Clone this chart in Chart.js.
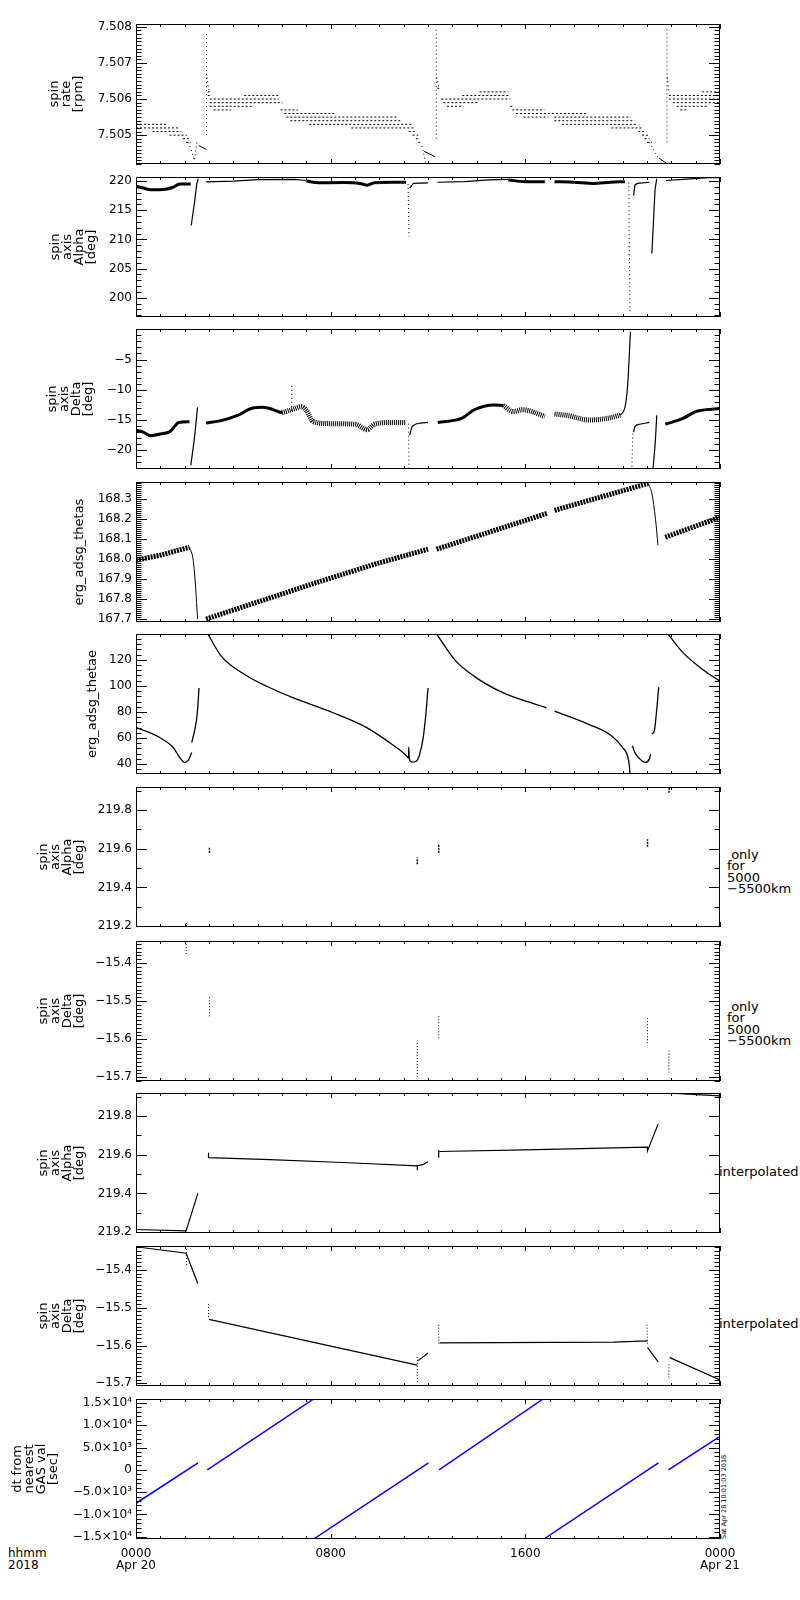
<!DOCTYPE html>
<html>
<head>
<meta charset="utf-8">
<title>ERG spin axis</title>
<script src="https://cdn.jsdelivr.net/npm/chart.js@4.4.1/dist/chart.umd.min.js"></script>
<style>
  html, body { margin: 0; padding: 0; background: #fff; }
  #page { position: relative; width: 800px; height: 1600px; background: #fff; overflow: hidden;
          font-family: "DejaVu Sans", sans-serif; color: #000; }
  #page canvas { position: absolute; left: 0; }
  .side { position: absolute; font-size: 13px; line-height: 11.3px; white-space: pre; }
  .interp { position: absolute; font-size: 13px; line-height: 13px; white-space: pre; }
  .foot { position: absolute; font-size: 12px; line-height: 12px; white-space: pre; }
  .stamp { position: absolute; font-size: 6.5px; line-height: 7px; white-space: pre;
           transform-origin: 0 0; transform: rotate(-90deg); }
</style>
</head>
<body>
<div id="page">
  <div class="side" style="left:727px;top:849px"> only
for
5000
−5500km</div>
  <div class="side" style="left:727px;top:1001px"> only
for
5000
−5500km</div>
  <div class="interp" style="left:719px;top:1165px">interpolated</div>
  <div class="interp" style="left:719px;top:1317px">interpolated</div>
  <div class="foot" style="left:8px;top:1547px">hhmm
2018</div>
  <div class="stamp" style="left:721px;top:1539px">Sat Apr 28 10:01:03 2018</div>
</div>
<script>
Chart.defaults.font.family = '"DejaVu Sans", sans-serif';
Chart.defaults.color = '#000';

// x axis: hours since 2018-04-20 0000
const hourTicks = [0, 8, 16, 24];
const hourLabels = [['0000', 'Apr 20'], '0800', '1600', ['0000', 'Apr 21']];

// ---------- panel 1 : spin rate [rpm] (quantized levels) ----------
const rateTicks = [7.505, 7.506, 7.507, 7.508];
const rateTickLabels = ['7.505', '7.506', '7.507', '7.508'];
const rateStart = [0, 0, 0.68, 1.38, 1.93, 2.06, 2.95, 2.95, 4.45, 3.03, 3.03, 3.03, 3.19, 5.94, 6.1, 6.18,
  6.34, 7.12, 8.85, 11.21, 11.37, 11.5, 11.6, 12.38, 14.12, 13.41, 12.55, 12.63, 12.78, 15.38, 15.46, 15.61,
  15.93, 17.19, 17.19, 17.5, 19.54, 20.64, 20.8, 20.9, 21.0, 23.27, 21.9, 21.9, 22.06, 22.22, 22.37];
const rateEnd = [1.23, 1.78, 1.86, 2.09, 2.17, 2.25, 3.11, 3.11, 5.86, 5.86, 6.02, 4.76, 3.9, 6.65, 8.14, 10.74,
  10.9, 11.37, 11.45, 11.52, 11.6, 11.68, 11.75, 12.5, 15.3, 15.3, 15.38, 14.04, 13.41, 15.53, 16.79, 18.52,
  16.95, 20.33, 20.49, 20.64, 20.8, 20.88, 21.04, 21.1, 21.2, 24, 24, 24, 24, 23.48, 22.69];
const rateLevel = [7.5053, 7.5052, 7.5051, 7.5050, 7.5049, 7.5048, 7.5062, 7.5061, 7.5061, 7.5060, 7.5059,
  7.5058, 7.5057, 7.5057, 7.5056, 7.5055, 7.5054, 7.5053, 7.5052, 7.5051, 7.5050, 7.5049, 7.5048, 7.5063,
  7.5062, 7.5061, 7.5060, 7.5059, 7.5058, 7.5058, 7.5057, 7.5056, 7.5055, 7.5055, 7.5054, 7.5053, 7.5052,
  7.5051, 7.5050, 7.5049, 7.5048, 7.5062, 7.5061, 7.5060, 7.5059, 7.5058, 7.5057];
const rateSolid = [
  [[2.58, 7.50471], [2.9, 7.5046]],
  [[11.84, 7.50455], [12.3, 7.5044]],
  [[21.5, 7.50436], [21.8, 7.50422]]
];
const rateDots = [
  [[2.17, 7.5048], [2.4, 7.5043], [2.5, 7.5048]],
  [[2.9, 7.5050], [2.9, 7.5078]], [[2.92, 7.5066], [3.0, 7.5062]],
  [[11.75, 7.5047], [11.92, 7.5042]],
  [[12.34, 7.5049], [12.34, 7.5080]], [[12.36, 7.5066], [12.45, 7.5063]],
  [[21.1, 7.5048], [21.45, 7.50437]],
  [[21.82, 7.5048], [21.82, 7.5080]], [[21.84, 7.5066], [21.9, 7.5062]]
];

// ---------- panel 2 : spin axis Alpha [deg] ----------
const alphaTicks = [200, 205, 210, 215, 220];
const alphaTickLabels = ['200', '205', '210', '215', '220'];
const alphaThick = [
  [[0, 219.1], [0.3, 218.8], [0.6, 218.5], [1.2, 218.6], [1.5, 218.9], [1.8, 219.5], [2.25, 219.5]],
  [[7.0, 220.0], [7.5, 219.7], [8.5, 219.75], [9.2, 219.6], [9.5, 219.3], [9.8, 219.7], [10.5, 219.8], [11.1, 219.8]],
  [[15.3, 220.2], [16.0, 219.9], [16.8, 219.9]],
  [[17.2, 219.9], [18.0, 219.8], [18.8, 219.6], [19.5, 219.8], [20.1, 219.9]]
];
const alphaThin = [
  [[2.27, 212.4], [2.4, 216.2], [2.5, 219.6], [2.56, 220.4]],
  [[2.88, 219.85], [4.0, 220.0], [5.0, 220.25], [6.5, 220.3], [7.0, 220.1]],
  [[11.25, 218.8], [11.4, 219.6], [12.0, 219.7]],
  [[12.38, 219.8], [13.5, 219.9], [14.5, 220.2], [15.3, 220.3]],
  [[20.45, 217.5], [20.5, 219.3], [20.6, 219.6], [21.1, 219.8]],
  [[21.2, 207.6], [21.33, 218.5], [21.4, 220.4]],
  [[21.78, 220.1], [22.5, 220.3], [23.5, 220.6], [24, 220.6]]
];
const alphaDots = [
  [[11.18, 219.5], [11.22, 210.5]],
  [[20.25, 219.8], [20.3, 197.4]]
];

// ---------- panel 3 : spin axis Delta [deg] ----------
const deltaTicks = [-20, -15, -10, -5];
const deltaTickLabels = ['−20', '−15', '−10', '−5'];
const deltaThick = [
  [[0, -16.7], [0.3, -17.0], [0.6, -17.6], [1.0, -17.3], [1.4, -16.9], [1.6, -16.0], [1.75, -15.4], [2.2, -15.3]],
  [[2.88, -15.5], [3.5, -15.1], [4.2, -14.2], [4.8, -13.0], [5.2, -12.9], [6.0, -13.8]],
  [[12.4, -15.4], [13.4, -14.7], [13.9, -13.3], [14.7, -12.5], [15.1, -12.6]],
  [[21.75, -15.7], [22.5, -14.7], [23.0, -13.6], [24, -13.1]]
];
const deltaNoisy = [
  [[6.0, -13.8], [6.4, -13.3], [6.8, -12.8], [7.0, -13.4], [7.3, -15.3], [8.0, -15.6], [9.0, -15.7],
   [9.5, -16.6], [9.8, -15.7], [10.5, -15.4], [11.1, -15.4]],
  [[15.1, -12.6], [15.5, -13.6], [15.9, -13.3], [16.8, -14.4]],
  [[17.2, -14.0], [17.8, -14.3], [18.6, -15.0], [19.4, -14.7], [19.9, -14.2]]
];
const deltaThin = [
  [[2.25, -22.5], [2.4, -18], [2.53, -12.9]],
  [[11.25, -17.5], [11.35, -16.1], [11.7, -15.5], [12.0, -15.4]],
  [[19.9, -14.2], [20.1, -12.8], [20.2, -9.5], [20.32, -0.4]],
  [[20.45, -17], [20.5, -16.1], [20.7, -15.7], [21.1, -15.4]],
  [[21.25, -23.0], [21.35, -18], [21.4, -14.2]]
];
const deltaDots = [
  [[6.4, -13.5], [6.4, -9.2]],
  [[11.2, -15.6], [11.22, -23.0]],
  [[20.38, -22.7], [20.42, -17]]
];

// ---------- panel 4 : erg_adsg_thetas ----------
const thetasTicks = [167.7, 167.8, 167.9, 168.0, 168.1, 168.2, 168.3];
const thetasTickLabels = ['167.7', '167.8', '167.9', '168.0', '168.1', '168.2', '168.3'];
const thetasBand = [
  [[0, 167.995], [1.0, 168.02], [2.2, 168.06]],
  [[2.88, 167.70], [5.24, 167.795], [7.6, 167.89], [9.95, 167.98], [12.0, 168.05]],
  [[12.35, 168.05], [16.9, 168.23]],
  [[17.2, 168.245], [21.05, 168.38]],
  [[21.75, 168.11], [24, 168.21]]
];
const thetasThin = [
  [[2.2, 168.06], [2.35, 167.995], [2.45, 167.86], [2.53, 167.70]],
  [[21.05, 168.38], [21.2, 168.33], [21.35, 168.2], [21.45, 168.07]]
];

// ---------- panel 5 : erg_adsg_thetae ----------
const thetaeTicks = [40, 60, 80, 100, 120];
const thetaeTickLabels = ['40', '60', '80', '100', '120'];
const thetaeLines = [
  [[0, 68], [0.85, 61.6], [1.53, 52.7], [1.8, 45], [2.01, 41.3], [2.15, 43], [2.29, 48.9]],
  [[2.29, 56.5], [2.42, 66.7], [2.52, 79.4], [2.59, 98.4]],
  [[2.95, 139.8], [3.52, 122.5], [4.48, 108.6], [5.37, 99.7], [6.47, 90.8], [8.1, 79.4], [9.48, 68],
   [10.42, 56.5], [11.05, 47.6], [11.2, 44.5]],
  [[11.2, 44.5], [11.21, 53], [11.23, 44], [11.35, 41.5], [11.5, 42], [11.65, 47], [11.8, 60], [11.92, 80], [12.0, 98.4]],
  [[12.36, 139.6], [13.1, 120], [13.9, 107.3], [15.1, 94.6], [16.87, 83.2]],
  [[17.2, 80.6], [18.6, 70.5], [19.55, 61.6], [20.0, 52.7], [20.2, 46.3], [20.28, 38], [20.3, 32.4]],
  [[20.4, 54], [20.5, 49], [20.65, 45], [20.93, 41.3], [21.1, 44], [21.15, 47.6]],
  [[21.2, 63], [21.3, 65.4], [21.4, 81.9], [21.48, 99]],
  [[21.87, 139.6], [22.5, 125.1], [23.3, 112.4], [24, 103.5]]
];

// ---------- panels 6,8 : Alpha (5000-5500km only / interpolated) ----------
const alphaFineTicks = [219.2, 219.4, 219.6, 219.8];
const alphaFineLabels = ['219.2', '219.4', '219.6', '219.8'];
const alphaOnly = [
  [[2.06, 219.195], [2.06, 219.215]],
  [[3.02, 219.58], [3.02, 219.61]],
  [[11.56, 219.52], [11.56, 219.555]],
  [[12.44, 219.58], [12.44, 219.625]],
  [[21.02, 219.61], [21.02, 219.65]],
  [[21.9, 219.89], [21.92, 219.92]]
];
const alphaInterp = [
  [[0, 219.213], [2.06, 219.206], [2.54, 219.4]],
  [[2.98, 219.61], [2.98, 219.585], [5.5, 219.575], [8.5, 219.56], [11.56, 219.543], [11.8, 219.55], [12.0, 219.564]],
  [[11.56, 219.52], [11.56, 219.543]],
  [[12.44, 219.585], [12.44, 219.625]],
  [[12.46, 219.617], [16.0, 219.625], [21.02, 219.64], [21.02, 219.62], [21.46, 219.76]],
  [[21.9, 219.92], [22.5, 219.915], [24, 219.905]]
];

// ---------- panels 7,9 : Delta (5000-5500km only / interpolated) ----------
const deltaFineTicks = [-15.7, -15.6, -15.5, -15.4];
const deltaFineLabels = ['−15.7', '−15.6', '−15.5', '−15.4'];
const deltaOnly = [
  [[2.06, -15.342], [2.06, -15.38]],
  [[3.02, -15.49], [3.02, -15.54]],
  [[11.56, -15.61], [11.56, -15.70]],
  [[12.44, -15.54], [12.44, -15.60]],
  [[21.02, -15.545], [21.02, -15.61]],
  [[21.9, -15.63], [21.9, -15.69]]
];
const deltaInterp = [
  [[0, -15.339], [2.06, -15.356], [2.54, -15.436]],
  [[3.0, -15.531], [11.56, -15.652]],
  [[11.6, -15.64], [12.0, -15.62]],
  [[12.48, -15.593], [19.65, -15.591], [21.02, -15.588]],
  [[21.02, -15.605], [21.46, -15.643]],
  [[21.94, -15.632], [24, -15.691]]
];
const deltaInterpDots = [
  [[2.06, -15.337], [2.08, -15.39]],
  [[2.98, -15.49], [2.98, -15.53]],
  [[11.56, -15.63], [11.56, -15.70]],
  [[12.44, -15.545], [12.44, -15.60]],
  [[21.0, -15.545], [21.02, -15.6]],
  [[21.9, -15.65], [21.9, -15.69]]
];

// ---------- panel 10 : dt from nearest GAS val [sec] ----------
const dtTicks = [-15000, -10000, -5000, 0, 5000, 10000, 15000];
const dtTickLabels = ['−1.5×10⁴', '−1.0×10⁴', '−5.0×10³', '0', '5.0×10³', '1.0×10⁴', '1.5×10⁴'];
const dtLines = [
  [[0, -7500], [2.55, 1580]],
  [[2.93, 0], [7.3, 15900]],
  [[7.3, -15520], [12.02, 1580]],
  [[12.45, 0], [16.73, 15900]],
  [[16.76, -15520], [21.47, 1580]],
  [[21.88, 0], [24, 7500]]
];

// turn lists of [hour, value] into chart.js datasets
function toSets(segs, width, dash, color, smooth) {
  return segs.map(s => ({
    data: s.map(p => ({ x: p[0], y: p[1] })),
    borderColor: color || '#000',
    borderWidth: width,
    borderDash: dash || [],
    pointRadius: 0,
    fill: false,
    tension: smooth ? 0.4 : 0,
    cubicInterpolationMode: smooth ? 'monotone' : 'default',
    clip: 0
  }));
}

const rateLevelSegs = rateLevel.map((v, i) => [[rateStart[i], v], [rateEnd[i], v]]);

const panels = [
  { title: ['spin', 'rate', '[rpm]'], center: 55, min: 7.5042, max: 7.50808, ticks: rateTicks, labels: rateTickLabels, minor: 0.0001,
    sets: [...toSets(rateLevelSegs, 1, [2, 2]), ...toSets(rateSolid, 1), ...toSets(rateDots, 1, [1, 3])] },
  { title: ['spin', 'axis', 'Alpha', '[deg]'], center: 56, min: 196.7, max: 220.7, ticks: alphaTicks, labels: alphaTickLabels, minor: 1,
    sets: [...toSets(alphaThick, 3, [], null, true), ...toSets(alphaThin, 1.2), ...toSets(alphaDots, 1, [1, 3])] },
  { title: ['spin', 'axis', 'Delta', '[deg]'], center: 53, min: -23.1, max: 0.05, ticks: deltaTicks, labels: deltaTickLabels, minor: 1,
    sets: [...toSets(deltaThick, 3, [], null, true), ...toSets(deltaNoisy, 5, [1, 1], null, true),
           ...toSets(deltaThin, 1.2, [], null, true), ...toSets(deltaDots, 1, [1, 3])] },
  { title: 'erg_adsg_thetas', center: 80, min: 167.685, max: 168.387, ticks: thetasTicks, labels: thetasTickLabels, minor: 0.01,
    sets: [...toSets(thetasBand, 5, [2, 1]), ...toSets(thetasThin, 1, [], null, true)] },
  { title: 'erg_adsg_thetae', center: 93, min: 32.4, max: 139.8, ticks: thetaeTicks, labels: thetaeTickLabels, minor: 4,
    sets: toSets(thetaeLines, 1.3, [], null, true) },
  { title: ['spin', 'axis', 'Alpha', '[deg]'], center: 44, min: 219.195, max: 219.92, ticks: alphaFineTicks, labels: alphaFineLabels, minor: 0.1,
    sets: toSets(alphaOnly, 1.5, [2, 1]) },
  { title: ['spin', 'axis', 'Delta', '[deg]'], center: 44, min: -15.71, max: -15.342, ticks: deltaFineTicks, labels: deltaFineLabels, minor: 0.01,
    sets: toSets(deltaOnly, 1, [1, 2]) },
  { title: ['spin', 'axis', 'Alpha', '[deg]'], center: 44, min: 219.195, max: 219.92, ticks: alphaFineTicks, labels: alphaFineLabels, minor: 0.1,
    sets: toSets(alphaInterp, 1.2) },
  { title: ['spin', 'axis', 'Delta', '[deg]'], center: 44, min: -15.707, max: -15.337, ticks: deltaFineTicks, labels: deltaFineLabels, minor: 0.01,
    sets: [...toSets(deltaInterp, 1.2), ...toSets(deltaInterpDots, 1, [1, 2])] },
  { title: ['dt from', 'nearest', 'GAS val', '[sec]'], center: 18, min: -15520, max: 15900, ticks: dtTicks, labels: dtTickLabels, minor: 1000,
    sets: toSets(dtLines, 1.5, [], '#0000ff') }
];

const panelTops = [24, 177, 329, 482, 634, 787, 941, 1093, 1246, 1399];
const plotH = 140;
const pad = 12;

// IDL style frame with inward ticks on all four sides
function idlFrame(p) {
  return {
    id: 'idlFrame',
    afterDatasetsDraw(chart) {
      const { ctx, chartArea: a } = chart;
      const x = chart.scales.x, y = chart.scales.y;
      ctx.save();
      ctx.strokeStyle = '#000';
      ctx.lineWidth = 1;
      ctx.setLineDash([]);
      ctx.beginPath();
      const k0 = Math.ceil(p.min / p.minor - 1e-6), k1 = Math.floor(p.max / p.minor + 1e-6);
      for (let k = k0; k <= k1; k++) {
        const v = k * p.minor;
        const major = p.ticks.some(t => Math.abs(t - v) < p.minor / 10);
        const len = major ? 11 : 5.5;
        const py = Math.round(y.getPixelForValue(v)) + 0.5;
        ctx.moveTo(a.left, py); ctx.lineTo(a.left + len, py);
        ctx.moveTo(a.right, py); ctx.lineTo(a.right - len, py);
      }
      for (let h = 0; h <= 24; h++) {
        const len = h % 8 === 0 ? 5 : 3;
        const px = Math.round(x.getPixelForValue(h)) + 0.5;
        ctx.moveTo(px, a.top); ctx.lineTo(px, a.top + len);
        ctx.moveTo(px, a.bottom); ctx.lineTo(px, a.bottom - len);
      }
      ctx.stroke();
      ctx.strokeRect(a.left + 0.5, a.top + 0.5, a.right - a.left - 1, a.bottom - a.top - 1);
      ctx.restore();
    }
  };
}

const page = document.getElementById('page');

panels.forEach((p, i) => {
  const last = i === panels.length - 1;
  const h = last ? pad + plotH + 50 : pad + plotH + pad;
  const canvas = document.createElement('canvas');
  canvas.width = 800;
  canvas.height = h;
  canvas.style.top = (panelTops[i] - pad) + 'px';
  canvas.style.width = '800px';
  canvas.style.height = h + 'px';
  page.appendChild(canvas);

  new Chart(canvas, {
    type: 'line',
    data: { datasets: p.sets },
    options: {
      responsive: false,
      animation: false,
      events: [],
      layout: { padding: { left: 0, right: 80, top: pad, bottom: last ? 0 : pad } },
      plugins: { legend: { display: false }, tooltip: { enabled: false } },
      scales: {
        x: {
          type: 'linear', min: 0, max: 24, bounds: 'data',
          display: last,
          afterFit: s => { s.height = last ? 50 : 0; },
          afterBuildTicks: s => { s.ticks = hourTicks.map(v => ({ value: v })); },
          ticks: { autoSkip: false, maxRotation: 0, padding: 8.5, font: { size: 12, lineHeight: 1 },
                   callback: (v, idx) => hourLabels[idx] },
          grid: { display: false, drawTicks: false },
          border: { display: false }
        },
        y: {
          type: 'linear', min: p.min, max: p.max, bounds: 'data',
          afterFit: s => { s.width = 136; },
          afterBuildTicks: s => { s.ticks = p.ticks.map(v => ({ value: v })); },
          ticks: { autoSkip: false, padding: 4, font: { size: 12 },
                   callback: (v, idx) => p.labels[idx] },
          grid: { display: false, drawTicks: false },
          border: { display: false },
          title: { display: true, text: p.title, font: { size: 13, lineHeight: 0.92 },
                   padding: { top: p.center - 6, bottom: 0 } }
        }
      }
    },
    plugins: [idlFrame(p)]
  });
});
</script>
</body>
</html>
